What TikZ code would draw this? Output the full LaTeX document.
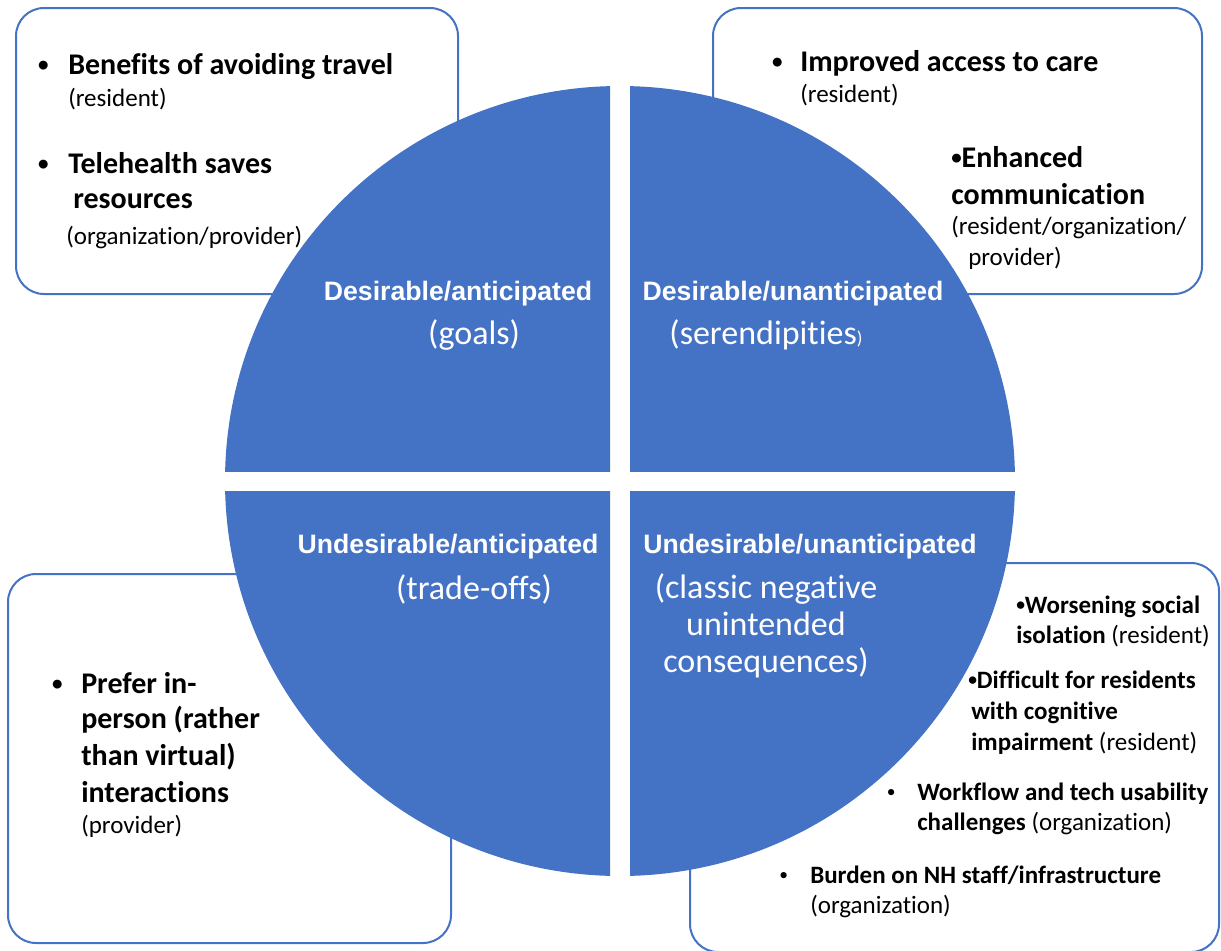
\documentclass[tikz,border=0pt]{standalone}
\usepackage{fontspec}
\setmainfont{Carlito}[Ligatures={NoCommon}]
\newfontfamily\titlefont{Liberation Sans}
\usepackage{xcolor}
\definecolor{quadblue}{RGB}{68,114,196}
\newcommand{\dotmark}{\raisebox{0.1em}{\scalebox{0.7}{\textbullet}}}
\newcommand{\bul}[1]{\llap{\makebox[#1][c]{\dotmark}}}

\begin{document}
\begin{tikzpicture}[x=0.75pt, y=-0.75pt,
    box/.style={draw=quadblue, line width=1.5pt, rounded corners=21pt, fill=white},
    bigitem/.style={anchor=base west, inner sep=0pt, font=\fontsize{22.5}{27}\selectfont\bfseries},
    who/.style={anchor=base west, inner sep=0pt, font=\fontsize{18.75}{22}\selectfont},
    qtitle/.style={anchor=base, inner sep=0pt, text=white, font=\titlefont\bfseries\fontsize{20}{23}\selectfont},
    qsub/.style={anchor=base, inner sep=0pt, text=white, font=\fontsize{25.5}{30}\selectfont}]
  \useasboundingbox (0,0) rectangle (1221,950);
  % boxes behind the circle
  \draw[box] (16,8) rectangle (458,294);
  \draw[box] (713,8) rectangle (1202,294);
  \draw[box] (8,574) rectangle (451,943);
  \begin{scope}
    \clip (0,0) rectangle (1221,950);
    \draw[box] (690,563) rectangle (1219,952);
  \end{scope}
  % the circle, cut in four
  \foreach \xa/\ya/\xb/\yb in {0/0/610/471, 630/0/1221/471, 0/491/610/950, 630/491/1221/950}{
    \begin{scope}
      \clip (\xa,\ya) rectangle (\xb,\yb);
      \fill[quadblue] (620,481) circle[radius=395];
    \end{scope}
  }
  % quadrant labels
  \node[qtitle] (q1) at (458,300) {Desirable/anticipated};
  \node[qsub] (q1s) at (474,344) {(goals)};
  \node[qtitle] (q2) at (793,300) {Desirable/unanticipated};
  \node[qsub] (q2s) at (766,344) {(serendipities{\fontsize{14}{16}\selectfont)}};
  \node[qtitle] (q3) at (448,553) {Undesirable/anticipated};
  \node[qsub] (q3s) at (474,599) {(trade-offs)};
  \node[qtitle] (q4) at (810,553) {Undesirable/unanticipated};
  \node[qsub] (q4a) at (766,598) {(classic negative};
  \node[qsub] (q4b) at (766,635) {unintended};
  \node[qsub] (q4c) at (766,672) {consequences)};
  % top left box
  \node[bigitem] (tl1) at (68,74) {\bul{37.5pt}Benefits of avoiding travel};
  \node[who] (tl2) at (68,106) {(resident)};
  \node[bigitem] (tl3) at (68,173) {\bul{37.5pt}Telehealth saves};
  \node[bigitem] (tl4) at (73,208) {resources};
  \node[who] (tl5) at (66,244) {(organization/provider)};
  % top right box
  \node[bigitem] (tr1) at (800,71) {\bul{34.5pt}Improved access to care};
  \node[who] (tr2) at (800,102) {(resident)};
  \node[bigitem] (tr3) at (951,167) {\dotmark Enhanced};
  \node[bigitem] (tr4) at (951,204) {communication};
  \node[who] (tr5) at (951,234) {(resident/organization/};
  \node[who] (tr6) at (968,265) {provider)};
  % bottom left box
  \node[bigitem] (bl1) at (81,693) {\bul{36pt}Prefer in-};
  \node[bigitem] (bl2) at (81,728) {person (rather};
  \node[bigitem] (bl3) at (81,765) {than virtual)};
  \node[bigitem] (bl4) at (81,802) {interactions};
  \node[who] (bl5) at (81,833) {(provider)};
  % bottom right box
  \node[who] (br1) at (1016,613) {\textbf{\dotmark Worsening social}};
  \node[who] (br2) at (1016,643) {\textbf{isolation} (resident)};
  \node[who] (br3) at (968,688) {\textbf{\dotmark Difficult for residents}};
  \node[who] (br4) at (971,719) {\textbf{with cognitive}};
  \node[who] (br5) at (971,750) {\textbf{impairment} (resident)};
  \node[who] (br6) at (917,800) {\bul{39pt}\textbf{Workflow and tech usability}};
  \node[who] (br7) at (917,830) {\textbf{challenges} (organization)};
  \node[who] (br8) at (810,883) {\bul{39.75pt}\textbf{Burden on NH staff/infrastructure}};
  \node[who] (br9) at (810,913) {(organization)};
\end{tikzpicture}
\end{document}
